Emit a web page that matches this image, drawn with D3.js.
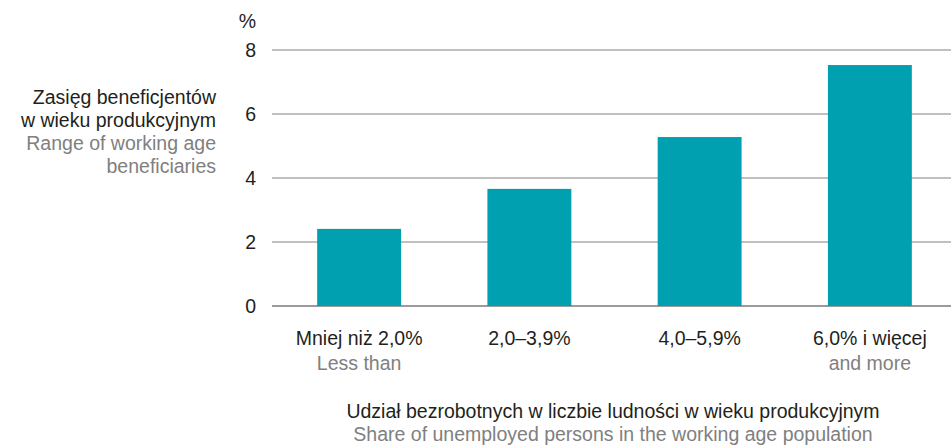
<!DOCTYPE html>
<html>
<head>
<meta charset="utf-8">
<script src="https://cdn.jsdelivr.net/npm/d3@7"></script>
<style>
  html, body { margin: 0; padding: 0; background: #fff; }
  svg { display: block; font-family: "Liberation Sans", Arial, sans-serif; }
</style>
</head>
<body>
<svg id="chart" width="951" height="446"></svg>
<script>
const categoriesPL = ["Mniej niż 2,0%", "2,0–3,9%", "4,0–5,9%", "6,0% i więcej"];
const categoriesEN = ["Less than", "", "", "and more"];
const values = [2.41, 3.66, 5.28, 7.53];
const yTicks = [0, 2, 4, 6, 8];
const yTitlePL = ["Zasięg beneficjentów", "w wieku produkcyjnym"];
const yTitleEN = ["Range of working age", "beneficiaries"];
const xTitlePL = "Udział bezrobotnych w liczbie ludności w wieku produkcyjnym";
const xTitleEN = "Share of unemployed persons in the working age population";
const unitLabel = "%";

const svg = d3.select("#chart");
const black = "#231f20", gray = "#808080", teal = "#00a0b0";
const fs = 19.5;

const x = d3.scaleBand().domain(categoriesPL).range([274, 955]).paddingInner(0.507).paddingOuter(0.2535);
const y = d3.scaleLinear().domain([0, 8]).range([306, 50]);

// grid
svg.append("g").selectAll("line").data(yTicks).join("line")
  .attr("x1", 272).attr("x2", 951)
  .attr("y1", d => y(d)).attr("y2", d => y(d))
  .attr("stroke", d => d === 0 ? "#7a7a7a" : "#ababab")
  .attr("stroke-width", 1.5);

// tick labels
svg.append("g").selectAll("text").data(yTicks).join("text")
  .attr("x", 256).attr("y", d => y(d)).attr("dy", "0.35em")
  .attr("text-anchor", "end").attr("font-size", fs).attr("fill", black)
  .text(d => d);

svg.append("text").attr("x", 256).attr("y", 28).attr("text-anchor", "end")
  .attr("font-size", fs).attr("fill", black).text(unitLabel);

// bars
svg.append("g").selectAll("rect").data(values).join("rect")
  .attr("x", (d, i) => x(categoriesPL[i]))
  .attr("width", x.bandwidth())
  .attr("y", d => y(d))
  .attr("height", d => y(0) - y(d))
  .attr("fill", teal);

// x labels
const xl = svg.append("g");
xl.selectAll("text.pl").data(categoriesPL).join("text").attr("class", "pl")
  .attr("x", d => x(d) + x.bandwidth() / 2).attr("y", 345)
  .attr("text-anchor", "middle").attr("font-size", fs).attr("fill", black).text(d => d);
xl.selectAll("text.en").data(categoriesEN).join("text").attr("class", "en")
  .attr("x", (d, i) => x(categoriesPL[i]) + x.bandwidth() / 2).attr("y", 370)
  .attr("text-anchor", "middle").attr("font-size", fs).attr("fill", gray).text(d => d);

// y title
const yt = svg.append("g");
yTitlePL.concat(yTitleEN).forEach((t, i) => {
  yt.append("text").attr("x", 216).attr("y", 104 + i * 23)
    .attr("text-anchor", "end").attr("font-size", fs)
    .attr("fill", i < 2 ? black : gray).text(t);
});

// x title
svg.append("text").attr("x", 613).attr("y", 418).attr("text-anchor", "middle")
  .attr("font-size", fs).attr("fill", black).text(xTitlePL);
svg.append("text").attr("x", 613).attr("y", 441).attr("text-anchor", "middle")
  .attr("font-size", fs).attr("fill", gray).text(xTitleEN);
</script>
</body>
</html>
